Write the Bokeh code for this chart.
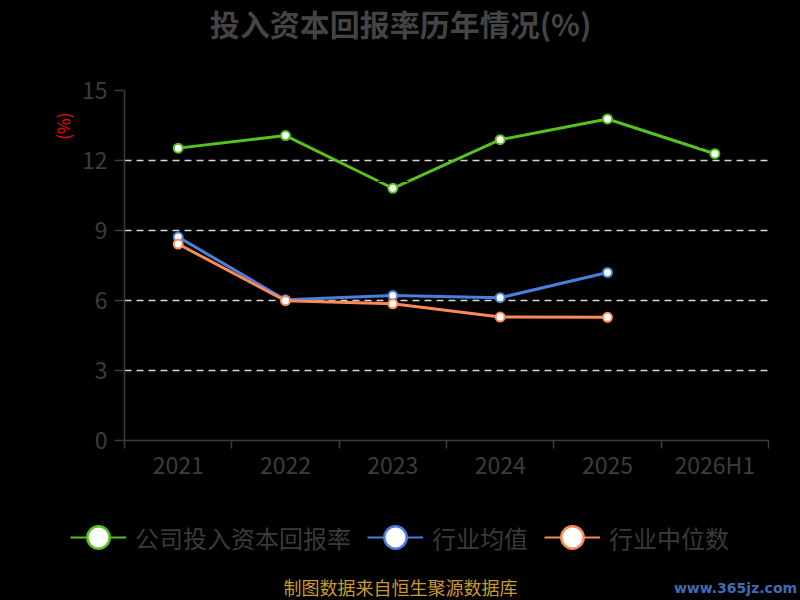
import math
from bokeh.plotting import figure
from bokeh.layouts import column, row
from bokeh.models import (Range1d, LinearAxis, FixedTicker, Label, Title,
                          Legend, LegendItem, ColumnDataSource)
from bokeh.embed import file_html
from bokeh.resources import INLINE

# ---------------- data ----------------
categories = ["2021", "2022", "2023", "2024", "2025", "2026H1"]
company = [12.53, 13.07, 10.81, 12.89, 13.78, 12.29]
avg_years = ["2021", "2022", "2023", "2024", "2025"]
industry_avg = [8.72, 6.03, 6.21, 6.12, 7.20]
industry_median = [8.42, 5.99, 5.86, 5.29, 5.28]
y_ticks = [0, 3, 6, 9, 12, 15]
company_labels = [f"{v:.2f}" for v in company]
series_names = ["公司投入资本回报率", "行业均值", "行业中位数"]
title_text = "投入资本回报率历年情况(%)"
unit_text = "(%)"
footer_text = "制图数据来自恒生聚源数据库"
watermark_text = "www.365jz.com"

GREEN = "#55c21f"
BLUE = "#4a7fe0"
ORANGE = "#fb8a55"
AXIS = "#3c3c3c"
FONT = "Noto Sans CJK SC"
W = 800


def blank(height):
    f = figure(width=W, height=height, x_axis_location=None, y_axis_location=None,
               output_backend="svg", toolbar_location=None,
               background_fill_color="black", border_fill_color="black",
               outline_line_color=None, min_border=0,
               min_border_left=0, min_border_right=0,
               min_border_top=0, min_border_bottom=0,
               x_range=Range1d(0, 1), y_range=Range1d(0, 1))
    f.grid.visible = False
    return f


# ---------------- title strip ----------------
top = blank(60)
top.add_layout(Label(x=400, y=38, x_units="screen", y_units="screen", text=title_text,
                     text_align="center", text_baseline="middle", text_font_size="30px",
                     text_font_style="bold", text_color="#444444", text_font=FONT))

# ---------------- main chart ----------------
n = len(categories)
pos = {c: i + 0.5 for i, c in enumerate(categories)}
x_company = [pos[c] for c in categories]
x_avg = [pos[c] for c in avg_years]

p = figure(width=W, height=430,
           x_range=Range1d(0, n), y_range=Range1d(0, 15),
           x_axis_location=None,
           output_backend="svg", toolbar_location=None,
           background_fill_color="black", border_fill_color="black",
           outline_line_color=None,
           min_border_left=124, min_border_right=32,
           min_border_top=30, min_border_bottom=50)

ya = p.yaxis[0]
ya.ticker = FixedTicker(ticks=y_ticks)
ya.axis_line_color = AXIS
ya.axis_line_width = 1.5
ya.major_tick_line_color = AXIS
ya.major_tick_line_width = 1.5
ya.major_tick_out = 10
ya.major_tick_in = 0
ya.minor_tick_out = 0
ya.minor_tick_in = 0
ya.major_label_standoff = 7
ya.major_label_text_font_size = "23px"
ya.major_label_text_color = AXIS
ya.major_label_text_font = FONT

xa = LinearAxis(ticker=FixedTicker(ticks=x_company, minor_ticks=list(range(n + 1))),
                major_label_overrides={x: lab for x, lab in zip(x_company, categories)})
xa.axis_line_color = AXIS
xa.axis_line_width = 1.5
xa.major_tick_out = 0
xa.major_tick_in = 0
xa.minor_tick_out = 8
xa.minor_tick_in = 0
xa.minor_tick_line_color = AXIS
xa.minor_tick_line_width = 1.5
xa.major_label_standoff = -2
xa.major_label_text_font_size = "23px"
xa.major_label_text_color = AXIS
xa.major_label_text_font = FONT
p.add_layout(xa, "below")

p.add_layout(Title(text=unit_text, align="right", offset=22, standoff=8,
                   text_font_size="17px", text_font_style="normal",
                   text_color="#ff0000", text_font=FONT), "left")

p.xgrid.visible = False
p.ygrid.ticker = FixedTicker(ticks=[t for t in y_ticks if t > 0])
p.ygrid.grid_line_color = "#d8d8d8"
p.ygrid.grid_line_dash = "7 5"
p.ygrid.grid_line_width = 1.5

p.line(x_company, company, line_color=GREEN, line_width=3)
p.scatter(x_company, company, size=9, fill_color="white", line_color=GREEN, line_width=2)
p.text(x=x_company, y=company, text=company_labels, text_color="black",
       text_font_size="13px", text_align="center", text_baseline="bottom", y_offset=-6)

p.line(x_avg, industry_avg, line_color=BLUE, line_width=3)
p.scatter(x_avg, industry_avg, size=9, fill_color="white", line_color=BLUE, line_width=2)

p.line(x_avg, industry_median, line_color=ORANGE, line_width=3)
p.scatter(x_avg, industry_median, size=9, fill_color="white", line_color=ORANGE, line_width=2)

# ---------------- legend + footer strip ----------------
bottom = blank(110)
items = []
for name, color in zip(series_names, [GREEN, BLUE, ORANGE]):
    # a single undefined point: nothing is drawn in the strip, only the legend glyph
    src = ColumnDataSource(data=dict(x=[float("nan")], y=[float("nan")]))
    lr = bottom.line("x", "y", source=src, line_color=color, line_width=2)
    sr = bottom.scatter("x", "y", source=src, size=10, fill_color="white",
                        line_color=color, line_width=2.5)
    items.append(LegendItem(label=name, renderers=[lr, sr]))

legend = Legend(items=items, orientation="horizontal", location=(70, 34),
                glyph_width=56, glyph_height=58, label_standoff=9, spacing=16,
                padding=0, margin=0, border_line_color=None,
                background_fill_alpha=0,
                label_text_font_size="24px", label_text_color="#3a3a3a",
                label_text_font=FONT)
bottom.add_layout(legend)

bottom.add_layout(Label(x=400, y=1, x_units="screen", y_units="screen", text=footer_text,
                        text_align="center", text_baseline="bottom", text_font_size="18px",
                        text_color="#c99a2e", text_font=FONT))
bottom.add_layout(Label(x=735, y=5, x_units="screen", y_units="screen", text=watermark_text,
                        text_align="center", text_baseline="bottom", text_font_size="14px",
                        text_font_style="bold", text_color="#3d6db5", text_font="DejaVu Sans"))

layout = column(row(top), p, row(bottom), spacing=0)

html = file_html(layout, INLINE)
html = html.replace("<head>", "<head><style>html,body{background:#000000;}</style>", 1)
open("out.html", "w").write(html)
